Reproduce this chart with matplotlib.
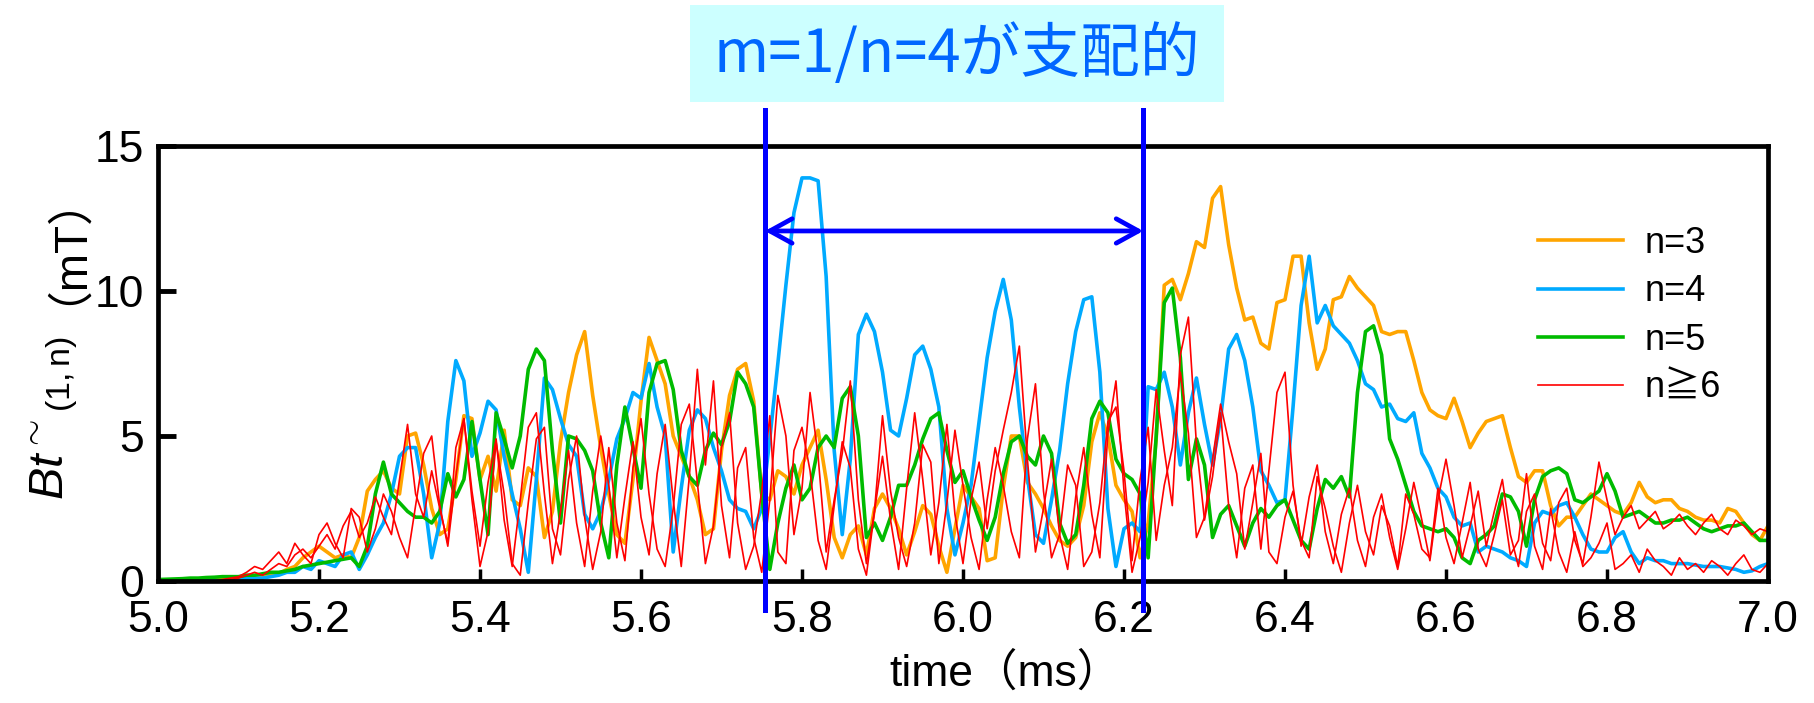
import numpy as np
import matplotlib
matplotlib.use("Agg")
import matplotlib.pyplot as plt
from matplotlib.patches import Rectangle

# ---------------- data (time step 0.01 ms, from 5.00 to 7.00 ms) ----------------
t_start = 5.0
t_step = 0.01

n3 = [
    0, 0, 0, 0.02, 0.03, 0.05, 0.05, 0.08, 0.1, 0.1,
    0.1, 0.12, 0.15, 0.2, 0.2, 0.25, 0.4, 0.5, 0.8, 1.0,
    1.2, 1.0, 0.8, 0.9, 0.8, 1.5, 3.1, 3.5, 3.8, 3.2,
    3.0, 5.0, 5.1, 4.0, 2.5, 1.6, 1.8, 3.5, 5.7, 5.6,
    3.5, 4.3, 3.1, 5.2, 2.8, 2.6, 3.9, 3.6, 1.5, 2.4,
    4.8, 6.5, 7.8, 8.6, 6.4, 4.6, 3.0, 1.6, 1.3, 3.5,
    6.2, 8.4, 7.6, 6.8, 5.0, 4.3, 3.6, 2.8, 1.6, 1.8,
    4.5, 6.4, 7.3, 7.5, 6.2, 3.0, 2.8, 3.8, 3.6, 3.0,
    4.0, 4.6, 5.2, 3.5, 1.5, 0.8, 1.6, 1.9, 0.9, 2.5,
    3.0, 2.5, 1.8, 0.9, 1.7, 2.6, 2.3, 1.2, 0.3, 1.8,
    3.3, 2.9, 2.5, 0.7, 0.8, 3.2, 5.0, 5.0, 3.4, 3.0,
    2.5, 1.9, 1.4, 1.2, 1.5, 2.6, 4.8, 5.8, 5.0, 3.3,
    2.8, 2.4, 0.8, 2.0, 4.9, 10.2, 10.4, 9.7, 10.6, 11.7,
    11.5, 13.2, 13.6, 11.6, 10.1, 9.0, 9.1, 8.2, 8.0, 9.6,
    9.7, 11.2, 11.2, 8.9, 7.3, 8.0, 9.7, 9.8, 10.5, 10.1,
    9.8, 9.5, 8.6, 8.5, 8.6, 8.6, 7.6, 6.5, 5.9, 5.7,
    5.6, 6.3, 5.5, 4.6, 5.1, 5.5, 5.6, 5.7, 4.6, 3.6,
    3.4, 3.8, 3.8, 2.6, 1.9, 2.2, 2.2, 2.6, 3.0, 2.8,
    2.6, 2.4, 2.3, 2.7, 3.4, 2.9, 2.7, 2.8, 2.8, 2.5,
    2.4, 2.2, 2.1, 2.1, 2.0, 2.5, 2.4, 2.0, 1.6, 1.4,
    1.9,
]

n4 = [
    0, 0, 0, 0, 0, 0, 0, 0, 0, 0,
    0.05, 0.1, 0.1, 0.1, 0.15, 0.2, 0.3, 0.3, 0.5, 0.4,
    0.7, 0.6, 0.5, 0.9, 1.0, 0.4, 0.9, 1.5, 2.0, 3.0,
    4.3, 4.6, 4.6, 3.0, 0.8, 2.0, 5.5, 7.6, 6.9, 4.3,
    5.1, 6.2, 5.9, 4.3, 3.0, 1.8, 0.3, 3.5, 7.0, 6.6,
    5.6, 4.7, 4.3, 2.3, 1.8, 2.4, 3.5, 4.9, 5.6, 6.5,
    6.3, 7.5, 6.0, 5.0, 1.0, 3.2, 5.2, 5.9, 5.6, 4.6,
    3.8, 2.8, 2.5, 2.4, 1.8, 2.5, 4.9, 7.5, 10.2, 12.7,
    13.9, 13.9, 13.8, 10.5, 4.5, 1.6, 4.2, 8.5, 9.2, 8.6,
    7.2, 5.2, 5.0, 6.3, 7.8, 8.1, 7.3, 6.0, 2.5, 0.9,
    2.0, 3.3, 5.5, 7.7, 9.3, 10.4, 9.0, 6.0, 3.6, 1.6,
    1.3, 2.8, 4.5, 6.8, 8.6, 9.7, 9.8, 7.2, 2.5, 0.5,
    1.8, 2.0, 1.7, 6.7, 6.6, 7.2, 6.0, 4.0, 5.8, 7.0,
    5.4, 4.0, 5.6, 8.0, 8.5, 7.6, 6.0, 3.8, 3.3, 2.7,
    2.8, 6.0, 9.5, 11.2, 8.9, 9.5, 8.8, 8.5, 8.2, 7.6,
    6.8, 6.6, 6.0, 6.1, 5.6, 5.5, 5.8, 4.4, 3.9, 3.2,
    2.9, 2.2, 1.9, 2.0, 1.0, 1.2, 1.1, 1.0, 0.8, 0.7,
    0.5, 2.0, 2.4, 2.3, 2.6, 2.7, 2.2, 1.6, 1.1, 1.0,
    1.0, 1.5, 1.7, 1.0, 0.6, 0.8, 0.7, 0.7, 0.6, 0.6,
    0.6, 0.55, 0.5, 0.5, 0.5, 0.45, 0.4, 0.3, 0.35, 0.5,
    0.6,
]

n5 = [
    0.05, 0.06, 0.07, 0.08, 0.1, 0.1, 0.12, 0.13, 0.15, 0.15,
    0.15, 0.2, 0.2, 0.25, 0.3, 0.3, 0.35, 0.4, 0.5, 0.55,
    0.6, 0.65, 0.7, 0.75, 0.8, 0.5, 1.2, 3.0, 4.1, 3.0,
    2.7, 2.4, 2.2, 2.2, 2.0, 2.4, 3.7, 2.9, 3.5, 5.5,
    3.5, 1.6, 5.8, 4.9, 3.9, 5.0, 7.3, 8.0, 7.6, 4.5,
    2.0, 5.0, 4.9, 4.5, 3.8, 2.0, 0.8, 4.0, 6.0, 4.6,
    3.2, 6.5, 7.5, 7.6, 6.6, 4.5, 3.6, 3.3, 4.5, 5.1,
    4.7, 5.5, 7.2, 6.8, 6.0, 3.0, 0.4, 2.0, 3.2, 4.0,
    2.8, 3.2, 4.6, 5.0, 4.6, 6.3, 6.7, 5.0, 1.5, 2.0,
    1.4, 2.2, 3.3, 3.3, 4.0, 4.9, 5.6, 5.8, 4.5, 3.4,
    3.8, 2.9, 2.1, 1.4, 2.2, 3.7, 4.8, 5.0, 4.3, 4.0,
    5.0, 4.4, 2.0, 1.3, 1.6, 3.3, 5.6, 6.2, 5.8, 4.2,
    3.7, 3.5, 3.0, 0.8, 5.0, 9.6, 10.1, 7.7, 3.5, 4.9,
    4.0, 1.5, 2.3, 2.6, 1.9, 1.2, 2.0, 2.5, 2.2, 2.6,
    2.8, 2.1, 1.4, 1.1, 2.5, 3.5, 3.2, 3.6, 2.9, 6.5,
    8.6, 8.8, 7.8, 4.9, 4.2, 3.3, 2.4, 1.9, 1.8, 1.7,
    1.8, 1.5, 0.8, 0.6, 1.4, 1.6, 1.9, 3.0, 2.9, 2.4,
    1.2, 2.8, 3.6, 3.8, 3.9, 3.7, 2.8, 2.7, 2.9, 3.1,
    3.7, 3.1, 2.2, 2.3, 2.4, 2.2, 2.0, 2.0, 2.1, 2.1,
    2.2, 2.0, 1.8, 1.7, 1.8, 1.9, 1.9, 2.0, 1.7, 1.4,
    1.4,
]

n6_a = [
    0, 0, 0, 0, 0, 0, 0, 0, 0, 0.05,
    0.1, 0.2, 0.3, 0.2, 0.4, 0.6, 0.5, 0.9, 1.1, 0.8,
    1.2, 1.6, 1.1, 1.9, 2.4, 1.5, 2.0, 2.9, 2.2, 1.6,
    3.5, 5.4, 3.0, 2.2, 3.8, 2.5, 1.3, 4.6, 5.6, 3.1,
    1.2, 3.4, 4.9, 2.1, 0.5, 2.8, 5.3, 5.8, 3.0, 0.6,
    2.4, 4.5, 2.0, 0.5, 3.1, 5.0, 3.3, 0.8, 2.9, 4.8,
    2.2, 0.9, 3.7, 5.4, 2.8, 0.5, 3.6, 7.3, 4.0, 6.9,
    2.6, 0.8, 3.9, 4.6, 1.5, 0.3, 2.8, 6.4, 5.0, 1.6,
    3.2, 6.5, 4.3, 1.0, 2.8, 4.4, 6.9, 2.8, 0.6, 2.4,
    4.3, 2.1, 0.4, 3.2, 5.8, 3.5, 0.9, 2.7, 5.4, 2.3,
    0.6, 2.8, 4.1, 1.8, 3.8, 5.2, 6.5, 8.1, 4.2, 1.0,
    2.5, 4.2, 1.6, 0.4, 2.9, 4.6, 2.3, 0.8, 5.1, 6.9,
    3.1, 0.3, 1.5, 3.4, 6.6, 4.5, 2.6, 7.8, 9.1, 4.7,
    2.1, 3.6, 5.8, 2.6, 0.8, 3.2, 4.0, 1.1, 3.8, 6.5,
    7.2, 3.3, 1.2, 2.9, 4.0, 1.7, 0.6, 2.3, 3.2, 1.4,
    0.5, 2.2, 3.0, 1.5, 0.4, 1.8, 3.4, 2.1, 0.7, 2.8,
    4.2, 2.6, 0.8, 1.9, 3.1, 1.2, 2.4, 3.5, 1.6, 0.5,
    2.4, 3.0, 1.3, 0.7, 2.7, 3.2, 1.4, 0.6, 2.2, 4.1,
    2.8, 1.6, 2.2, 2.6, 1.8, 2.1, 2.4, 1.8, 2.0, 2.3,
    1.9, 1.6, 2.0, 2.3, 1.8, 1.6, 2.1, 1.9, 1.6, 1.8,
    1.7,
]

n6_b = [
    0, 0, 0, 0, 0, 0, 0, 0, 0.05, 0.1,
    0.15, 0.3, 0.5, 0.4, 0.7, 1.0, 0.6, 1.3, 0.9, 0.6,
    1.6, 2.0, 1.3, 0.8, 2.5, 2.2, 1.0, 1.8, 3.0, 2.4,
    1.5, 0.8, 2.6, 4.4, 5.0, 2.6, 1.2, 3.6, 5.6, 2.8,
    0.5, 1.7, 4.8, 3.0, 0.6, 0.2, 2.7, 4.9, 5.3, 1.8,
    0.9, 3.5, 5.0, 2.2, 0.4, 1.7, 4.6, 2.0, 0.7, 3.9,
    5.6, 3.0, 1.1, 0.5, 2.5, 5.4, 6.1, 3.4, 0.6, 1.9,
    4.6, 5.8, 2.0, 0.4, 1.2, 3.1, 5.7, 1.0, 0.6, 4.5,
    5.3, 3.8, 1.4, 0.4, 2.6, 4.8, 3.9, 1.1, 0.2, 2.4,
    5.7, 3.1, 1.5, 0.5, 2.0, 4.7, 4.1, 0.6, 2.7, 5.2,
    3.3, 1.5, 0.4, 2.8, 4.6, 3.3, 1.7, 0.8, 4.9, 6.8,
    3.1, 0.8, 1.6, 4.0, 3.3, 0.5, 1.0, 2.7, 5.5, 6.0,
    3.8, 0.7, 3.5, 5.3, 1.4, 3.3, 4.6, 7.2, 5.1, 1.5,
    2.2, 4.2, 6.1, 4.8, 3.7, 1.1, 2.7, 4.4, 1.0, 0.6,
    2.2, 3.1, 1.4, 0.8, 3.6, 2.5, 1.2, 0.3, 2.0, 3.3,
    1.7, 0.9, 2.6, 1.9, 0.5, 3.0, 2.3, 1.1, 0.8, 3.2,
    1.5, 0.6, 2.0, 3.4, 1.1, 0.5, 1.6, 2.8, 0.9, 1.4,
    3.7, 1.2, 0.4, 2.5, 1.0, 0.3, 1.7, 0.5, 0.8, 1.3,
    2.0, 0.4, 0.6, 0.9, 0.3, 1.1, 0.7, 0.5, 0.2, 0.8,
    0.4, 0.6, 0.3, 0.7, 0.5, 0.2, 0.6, 0.9, 0.4, 0.3,
    0.6,
]

legend_labels = ["n=3", "n=4", "n=5", "n\u22676"]
xticks = [5.0, 5.2, 5.4, 5.6, 5.8, 6.0, 6.2, 6.4, 6.6, 6.8, 7.0]
xtick_labels = ["5.0", "5.2", "5.4", "5.6", "5.8", "6.0", "6.2", "6.4", "6.6", "6.8", "7.0"]
yticks = [0, 5, 10, 15]
ytick_labels = ["0", "5", "10", "15"]
window = [5.754, 6.224]      # m=1/n=4 dominant interval (ms)
arrow_level = 12.07          # mT
title_text = "m=1/n=4が支配的"
xlabel_text = "time（ms）"
ylabel_math = r"$\mathit{Bt}^{\sim}{}_{\mathrm{(1,n)}}$"
ylabel_unit = "（mT）"

# ---------------- style ----------------
plt.rcParams['font.family'] = ['Liberation Sans', 'Noto Sans CJK JP', 'DejaVu Sans']
plt.rcParams['mathtext.fontset'] = 'custom'
plt.rcParams['mathtext.rm'] = 'Liberation Sans'
plt.rcParams['mathtext.it'] = 'Liberation Sans:italic'

W, H = 1814, 703
fig = plt.figure(figsize=(W / 100, H / 100), dpi=100)
fig.patch.set_facecolor('white')

ax = fig.add_axes([158 / W, 1 - 581 / H, (1768 - 158) / W, (581 - 146) / H])

time = t_start + t_step * np.arange(len(n3))

colors = ['#FFA500', '#00AAFF', '#00BB00', '#FF0000']
l3, = ax.plot(time, n3, color=colors[0], lw=2.6)
l4, = ax.plot(time, n4, color=colors[1], lw=2.6)
l5, = ax.plot(time, n5, color=colors[2], lw=2.6)
l6, = ax.plot(time, n6_a, color=colors[3], lw=1.2)
ax.plot(time, n6_b, color=colors[3], lw=1.2)

ax.set_xlim(5.0, 7.0)
ax.set_ylim(0, 15)
ax.set_xticks(xticks)
ax.set_xticklabels(xtick_labels)
ax.set_yticks(yticks)
ax.set_yticklabels(ytick_labels)
ax.tick_params(axis='both', direction='in', labelsize=32, colors='black')
ax.tick_params(axis='x', length=9, width=2.5, pad=14)
ax.tick_params(axis='y', length=13, width=3.5, pad=10)
for s in ax.spines.values():
    s.set_linewidth(3.4)

leg = ax.legend([l3, l4, l5, l6], legend_labels, loc='upper left',
                bbox_to_anchor=(1538 / W, 1 - 226 / H), bbox_transform=fig.transFigure,
                frameon=False, fontsize=26, handlelength=2.35, handletextpad=0.6,
                labelspacing=0.37, borderpad=0, borderaxespad=0)

# interval markers
for xv in window:
    ax.plot([xv, xv], [-1.0, 16.24], color='#0000FF', lw=3.6, clip_on=False, zorder=10)
ax.annotate('', xy=(window[1], arrow_level), xytext=(window[0], arrow_level),
            arrowprops=dict(arrowstyle='<->,head_length=0.4,head_width=0.22',
                            color='#0000FF', lw=3.4, mutation_scale=40,
                            shrinkA=0, shrinkB=0), zorder=11)

# title box
fig.patches.append(Rectangle((690 / W, 1 - 102 / H), 534 / W, 97 / H,
                             transform=fig.transFigure, facecolor='#CCFFFF',
                             edgecolor='none', zorder=0))
fig.text(957 / W, 1 - 55 / H, title_text, fontsize=43, color='#0066FF',
         family=['Noto Sans CJK JP', 'DejaVu Sans'], ha='center', va='center')

fig.text(1006 / W, 1 - 674 / H, xlabel_text, fontsize=32, ha='center', va='center')
fig.text(54 / W, 1 - 500 / H, ylabel_math, fontsize=35, rotation=90,
         ha='center', va='bottom')
fig.text(44 / W, 1 - 226 / H, ylabel_unit, fontsize=33, rotation=90,
         ha='center', va='center')

fig.savefig('out.png', dpi=100, facecolor='white')
